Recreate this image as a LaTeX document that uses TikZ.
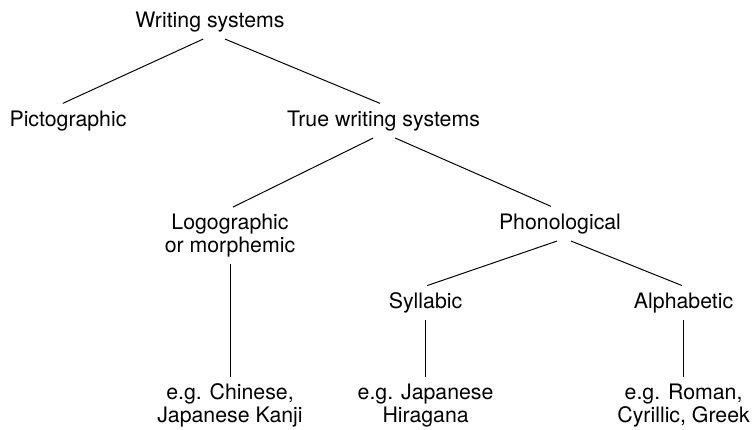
\documentclass[tikz,border=0pt]{standalone}
\usepackage{fontspec}
\setmainfont{TeX Gyre Heros}
\usetikzlibrary{positioning}
\tikzset {
  tree node/.style = {
    inner xsep = 0,
    inner ysep = 0.16cm,
    text height = 0.4cm,
    text depth = 0.133cm
  },
  % node with two lines of text
  two line/.style = {
    inner xsep = 0,
    inner ysep = 0.16cm,
    align = center
  },
  branch/.style = {
    draw = black,
    line width = 0.7pt
  },
  on grid
}

\begin{document}
\begin{tikzpicture}[font = \fontsize{15.15}{16.6}\selectfont]
    \useasboundingbox (-5.25, 0.5425) rectangle (13.55, -10.1825);

    \node[tree node] (writing) {Writing systems};
    \node[tree node] (picto) [below left=2.475cm and 3.55cm of writing] {Pictographic};
    \node[tree node] (true) [below right=2.475cm and 4.34cm of writing] {True writing systems};

    \node[two line] (logo) [below left=2.87cm and 3.84cm of true] {Logographic\\or morphemic};
    \node[tree node] (phono) [below right=2.575cm and 4.41cm of true] {Phonological};

    \node[tree node] (syll) [below left=1.98cm and 3.36cm of phono] {Syllabic};
    \node[tree node] (alpha) [below right=1.98cm and 3.09cm of phono] {Alphabetic};

    \node[two line] (chinese) [below=4.25cm of logo] {e.g. Chinese,\\Japanese Kanji};
    \node[two line] (hiragana) [below=2.57cm of syll] {e.g. Japanese\\Hiragana};
    \node[two line] (roman) [below=2.57cm of alpha] {e.g. Roman,\\Cyrillic, Greek};

    \draw [branch] ([xshift=-0.17cm]writing.south) -- ([xshift=-0.13cm]picto.north);
    \draw [branch] ([xshift=0.375cm]writing.south) -- ([xshift=-0.09cm]true.north);

    \draw [branch] ([xshift=-0.26cm]true.south) -- ([xshift=0.075cm]logo.north);
    \draw [branch] ([xshift=0.29cm]true.south) -- ([xshift=-0.225cm]phono.north);

    \draw [branch] ([xshift=-0.075cm]phono.south) -- ([xshift=0.04cm]syll.north);
    \draw [branch] ([xshift=0.275cm]phono.south) -- ([xshift=-0.04cm]alpha.north);

    \draw [branch] (logo) -- (chinese);
    \draw [branch] (syll) -- (hiragana);
    \draw [branch] (alpha) -- (roman);
  \end{tikzpicture}
\end{document}
